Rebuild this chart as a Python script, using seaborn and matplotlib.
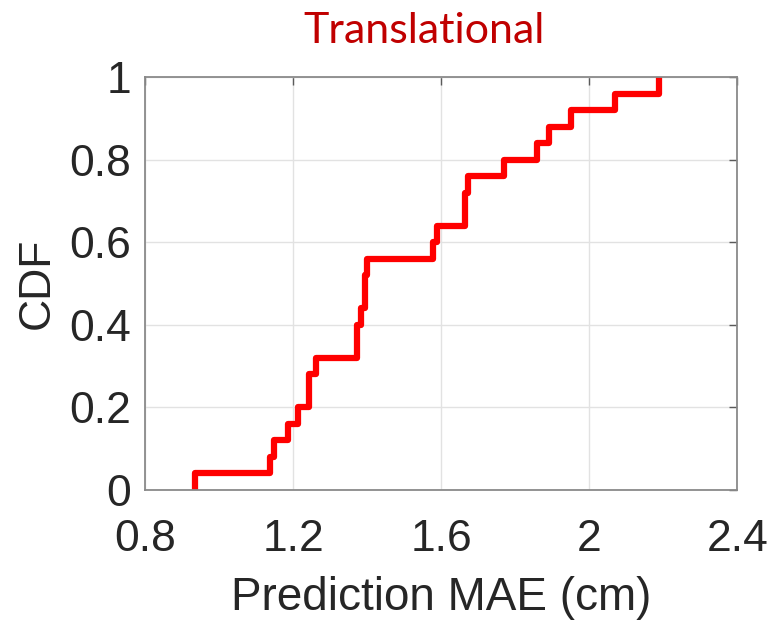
import matplotlib
matplotlib.use("Agg")
import matplotlib.pyplot as plt
import seaborn as sns
import pandas as pd

# Per-trial translational prediction errors (cm)
mae_cm = [0.934, 1.139, 1.148, 1.187, 1.213, 1.244, 1.244, 1.262,
          1.372, 1.372, 1.383, 1.394, 1.394, 1.400, 1.579, 1.589,
          1.664, 1.664, 1.673, 1.769, 1.858, 1.891, 1.952, 2.069, 2.189]

x_ticks = [0.8, 1.2, 1.6, 2.0, 2.4]
x_tick_labels = ["0.8", "1.2", "1.6", "2", "2.4"]
y_ticks = [0, 0.2, 0.4, 0.6, 0.8, 1]
y_tick_labels = ["0", "0.2", "0.4", "0.6", "0.8", "1"]

title_text = "Translational"
x_label = "Prediction MAE (cm)"
y_label = "CDF"

sns.set_style("white")
plt.rcParams["font.family"] = ["Liberation Sans", "DejaVu Sans"]

df = pd.DataFrame({"mae": mae_cm})

W, H = 774, 621
fig = plt.figure(figsize=(W / 100, H / 100), dpi=100)
ax = fig.add_axes([145 / W, (H - 490) / H, (737.3 - 145) / W, (490 - 77.3) / H])

sns.ecdfplot(data=df, x="mae", ax=ax, color="#ff0000", linewidth=4.5,
             solid_joinstyle="round")

ax.set_xlim(0.8, 2.4)
ax.set_ylim(0, 1)
ax.set_xticks(x_ticks)
ax.set_xticklabels(x_tick_labels)
ax.set_yticks(y_ticks)
ax.set_yticklabels(y_tick_labels)

ax.grid(True, color="#e2e2e2", linewidth=1)
ax.set_axisbelow(True)

ax.tick_params(axis="both", direction="in", length=6, width=1,
               color="#5a5a5a", top=True, right=True,
               labelsize=32, labelcolor="#262626")
ax.tick_params(axis="x", pad=21)
ax.tick_params(axis="y", pad=10)

for side in ["left", "right", "top", "bottom"]:
    ax.spines[side].set_visible(True)
    ax.spines[side].set_color("#8a8a8a")
    ax.spines[side].set_linewidth(1.3)

ax.set_xlabel(x_label, fontsize=33, color="#262626", labelpad=11.5)
ax.set_ylabel(y_label, fontsize=32, color="#262626", labelpad=8)

fig.text(424 / W, 1 - 43 / H, title_text, ha="center", va="baseline",
         color="#c00000", fontsize=31, family=["Lato", "DejaVu Sans"])

fig.savefig("out.png", dpi=100, facecolor="white")
